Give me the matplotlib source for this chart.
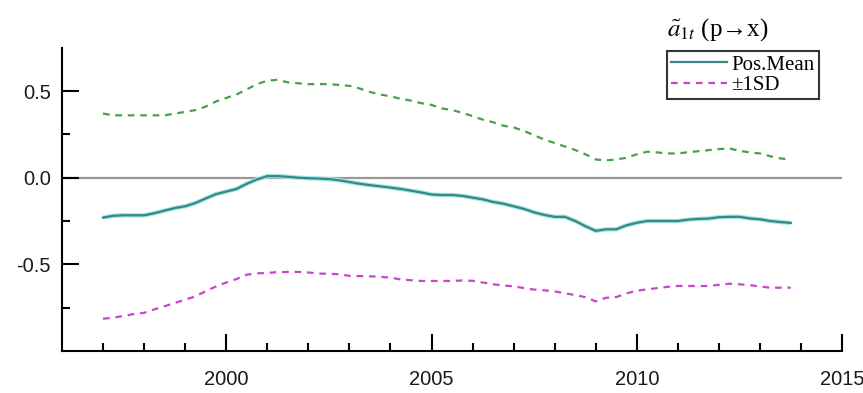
import matplotlib
matplotlib.use('Agg')
import matplotlib.pyplot as plt
from matplotlib.ticker import FixedLocator, FormatStrFormatter
import numpy as np

plt.rcParams['axes.unicode_minus'] = False
plt.rcParams['mathtext.fontset'] = 'stix'
plt.rcParams['xtick.direction'] = 'in'
plt.rcParams['ytick.direction'] = 'in'

# quarterly estimates, 1997Q1 .. 2013Q4
t = 1997 + np.arange(68) / 4.0

upper = [0.37, 0.36, 0.36, 0.36,
         0.36, 0.36, 0.36, 0.37,
         0.38, 0.39, 0.41, 0.44,
         0.46, 0.48, 0.51, 0.54,
         0.56, 0.565, 0.55, 0.545,
         0.54, 0.54, 0.54, 0.535,
         0.53, 0.515, 0.495, 0.48,
         0.47, 0.455, 0.445, 0.43,
         0.42, 0.40, 0.39, 0.375,
         0.355, 0.335, 0.32, 0.30,
         0.29, 0.27, 0.245, 0.22,
         0.20, 0.18, 0.16, 0.135,
         0.105, 0.10, 0.105, 0.115,
         0.135, 0.15, 0.146, 0.14,
         0.14, 0.147, 0.153, 0.159,
         0.165, 0.169, 0.155, 0.146,
         0.14, 0.124, 0.111, 0.105]

mean = [-0.23, -0.22, -0.217, -0.217,
        -0.217, -0.205, -0.19, -0.175,
        -0.165, -0.146, -0.12, -0.095,
        -0.08, -0.065, -0.035, -0.01,
        0.009, 0.009, 0.005, 0.0,
        -0.003, -0.005, -0.008, -0.015,
        -0.025, -0.035, -0.043, -0.05,
        -0.057, -0.065, -0.075, -0.085,
        -0.097, -0.10, -0.10, -0.105,
        -0.115, -0.125, -0.14, -0.15,
        -0.165, -0.18, -0.20, -0.215,
        -0.226, -0.226, -0.25, -0.28,
        -0.307, -0.298, -0.298, -0.275,
        -0.26, -0.25, -0.25, -0.25,
        -0.25, -0.242, -0.238, -0.236,
        -0.228, -0.226, -0.226, -0.235,
        -0.24, -0.25, -0.256, -0.261]

lower = [-0.814, -0.808, -0.798, -0.787,
         -0.78, -0.76, -0.742, -0.723,
         -0.704, -0.685, -0.655, -0.628,
         -0.605, -0.585, -0.56, -0.552,
         -0.55, -0.545, -0.544, -0.544,
         -0.547, -0.553, -0.555, -0.557,
         -0.567, -0.568, -0.569, -0.572,
         -0.577, -0.587, -0.592, -0.596,
         -0.596, -0.596, -0.596, -0.593,
         -0.595, -0.605, -0.615, -0.622,
         -0.627, -0.637, -0.646, -0.65,
         -0.656, -0.668, -0.677, -0.69,
         -0.714, -0.693, -0.689, -0.668,
         -0.652, -0.645, -0.637, -0.63,
         -0.625, -0.625, -0.625, -0.625,
         -0.618, -0.612, -0.615, -0.62,
         -0.628, -0.635, -0.635, -0.635]

fig = plt.figure(figsize=(8.63, 3.93), dpi=100)
ax = fig.add_axes([0.0718, 0.107, 0.904, 0.7715])

ax.axhline(0, color='#999999', lw=1.6, zorder=1)
ax.plot(t, upper, color='#4aa04a', lw=1.6, ls=(0, (3, 2.6)))
ax.plot(t, mean, color='#9fe8e8', lw=3.2, solid_capstyle='butt')
ax.plot(t, mean, color='#3a8585', lw=1.6, label='Pos.Mean')
ax.plot(t, lower, color='#cc44cc', lw=1.6, ls=(0, (3, 2.6)), label='±1SD')

ax.set_xlim(1996, 2015)
ax.set_ylim(-1.0, 0.75)

for s in ['top', 'right']:
    ax.spines[s].set_visible(False)
for s in ['left', 'bottom']:
    ax.spines[s].set_linewidth(1.5)

ax.xaxis.set_major_locator(FixedLocator([2000, 2005, 2010, 2015]))
ax.xaxis.set_minor_locator(FixedLocator(range(1997, 2015)))
ax.yaxis.set_major_locator(FixedLocator([-0.5, 0.0, 0.5]))
ax.yaxis.set_minor_locator(FixedLocator([-0.75, -0.25, 0.25]))
ax.yaxis.set_major_formatter(FormatStrFormatter('%.1f'))

tickfont = ['Liberation Sans Narrow', 'DejaVu Sans Condensed', 'Liberation Sans']
ax.tick_params(which='both', direction='in', width=1.5, color='black')
ax.tick_params(which='major', length=12)
ax.tick_params(which='minor', length=6)
ax.tick_params(axis='x', which='major', pad=14)
ax.tick_params(axis='y', which='major', pad=8)
for lab in ax.get_xticklabels() + ax.get_yticklabels():
    lab.set_fontfamily(tickfont)
    lab.set_fontsize(14.5)
    lab.set_color('#1a1a1a')

leg = ax.legend(loc='upper right', bbox_to_anchor=(0.97, 0.99),
                prop={'family': 'Liberation Serif', 'size': 15},
                frameon=True, fancybox=False, edgecolor='black',
                handlelength=2.7, handletextpad=0.2, borderpad=0.2,
                labelspacing=0.05, borderaxespad=0.0)
leg.get_frame().set_linewidth(1.5)

fig.text(0.832, 0.925, r'$\tilde{a}_{1t}$ (p→x)', ha='center', va='center',
         family=['Liberation Serif', 'DejaVu Serif'], fontsize=18)

fig.savefig('out.png', dpi=100)
